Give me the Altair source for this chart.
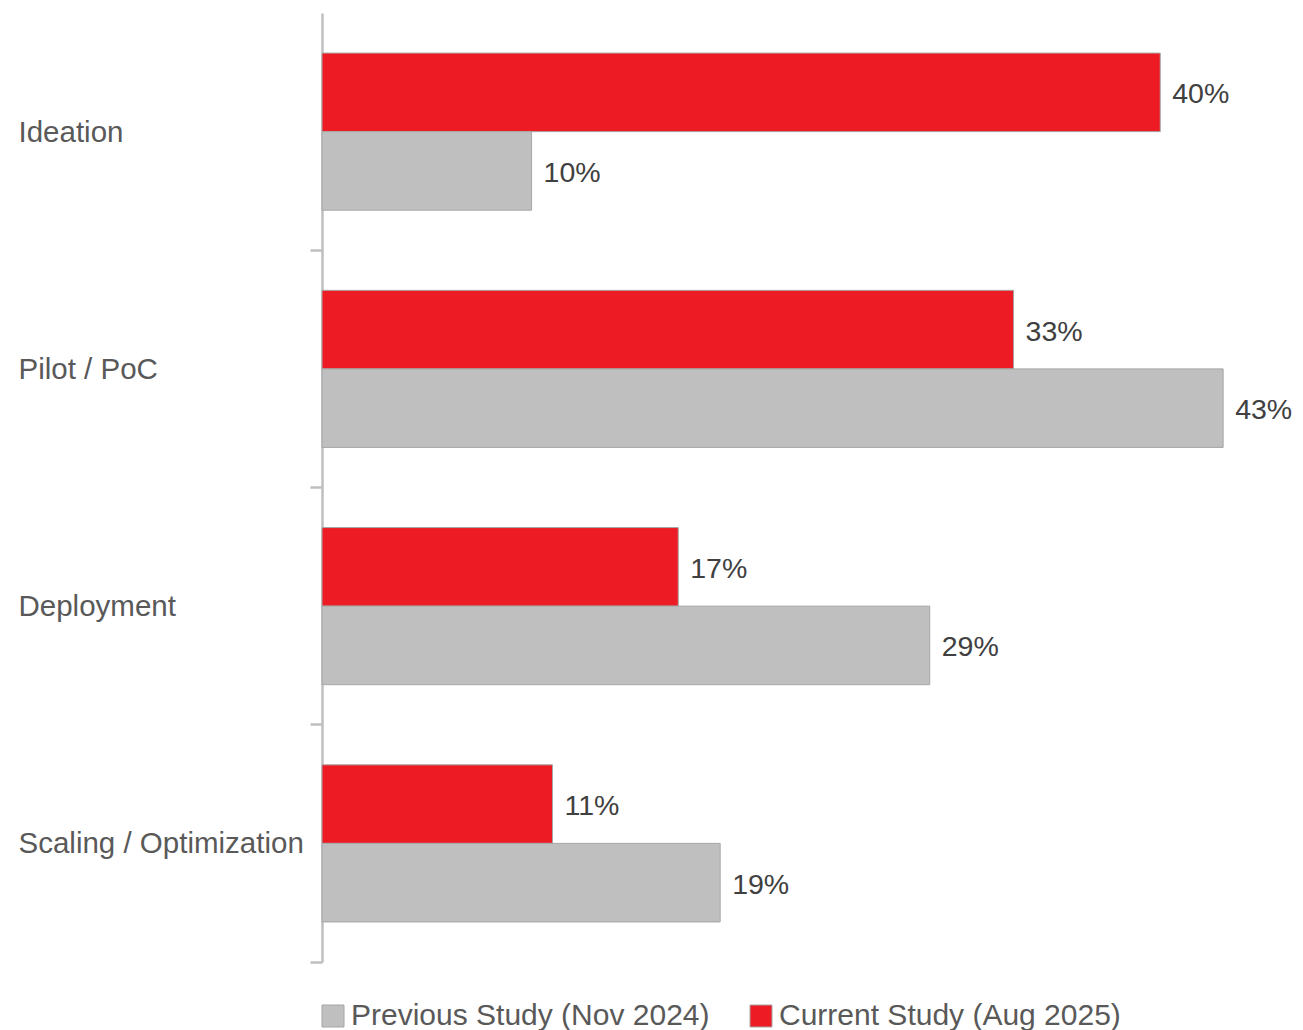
import altair as alt
import pandas as pd

categories = ["Ideation", "Pilot / PoC", "Deployment", "Scaling / Optimization"]
series_names = ["Previous Study (Nov 2024)", "Current Study (Aug 2025)"]
previous_values = [10, 43, 29, 19]
current_values = [40, 33, 17, 11]
series_colors = ["#BFBFBF", "#ED1C24"]

rows = []
for c, p, q in zip(categories, previous_values, current_values):
    rows.append({"stage": c, "series": series_names[1], "value": q, "label": f"{q}%"})
    rows.append({"stage": c, "series": series_names[0], "value": p, "label": f"{p}%"})
df = pd.DataFrame(rows)

FONT = "Liberation Sans"

base = alt.Chart(df).encode(
    y=alt.Y(
        "stage:N",
        sort=categories,
        scale=alt.Scale(paddingInner=0, paddingOuter=0),
        axis=alt.Axis(
            title=None,
            bandPosition=1,
            domainColor="#BFBFBF",
            domainWidth=2.5,
            tickColor="#BFBFBF",
            tickWidth=2.5,
            tickSize=12,
            labelPadding=292,
            labelFont=FONT,
            labelFontSize=29.5,
            labelColor="#595959",
            labelAlign="left",
            labelLimit=0,
            labelOffset=1,
        ),
    ),
    yOffset=alt.YOffset(
        "series:N",
        sort=[series_names[1], series_names[0]],
        scale=alt.Scale(paddingInner=0, paddingOuter=0.51),
    ),
    x=alt.X(
        "value:Q",
        scale=alt.Scale(domain=[0, 46], nice=False),
        axis=None,
    ),
)

bars = base.mark_bar(stroke="#A6A6A6", strokeWidth=1).encode(
    color=alt.Color(
        "series:N",
        scale=alt.Scale(domain=series_names, range=series_colors),
        legend=alt.Legend(
            title=None,
            orient="none",
            legendX=-4,
            legendY=988,
            direction="horizontal",
            symbolType="square",
            symbolSize=484,
            symbolStrokeColor="#A6A6A6",
            symbolStrokeWidth=1,
            labelFont=FONT,
            labelFontSize=30,
            labelColor="#595959",
            labelOffset=3,
            labelLimit=0,
            columnPadding=36,
        ),
    )
)

labels = base.mark_text(
    align="left", baseline="middle", dx=12, dy=2, font=FONT, fontSize=28.5, color="#404040"
).encode(text="label:N")

chart = (
    alt.layer(bars, labels)
    .properties(
        width=964,
        height=949,
        padding={"left": 322, "top": 13, "right": 17, "bottom": 68},
        autosize=alt.AutoSizeParams(type="none"),
    )
    .configure_view(stroke=None)
)

chart.save("out.html", embed_options={"renderer": "svg", "actions": False})
